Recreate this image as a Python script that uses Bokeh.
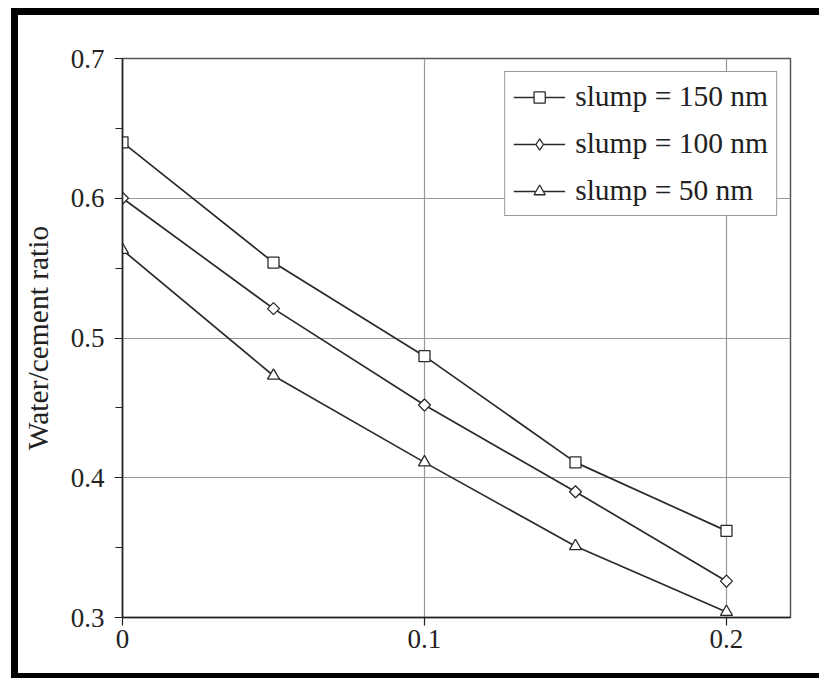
import math
from bokeh.plotting import figure
from bokeh.models import Range1d, FixedTicker, Legend, LegendItem
from bokeh.embed import file_html
from bokeh.resources import INLINE

# ---- data ----
superplasticizer = [0.0, 0.05, 0.10, 0.15, 0.20]
wc_slump150 = [0.640, 0.554, 0.487, 0.411, 0.362]
wc_slump100 = [0.600, 0.521, 0.452, 0.390, 0.326]
wc_slump50 = [0.563, 0.473, 0.411, 0.351, 0.304]
series_labels = ["slump = 150 nm", "slump = 100 nm", "slump = 50 nm"]
x_ticks = [0.0, 0.1, 0.2]
x_tick_labels = ["0", "0.1", "0.2"]
y_ticks = [0.3, 0.4, 0.5, 0.6, 0.7]
y_minor = [0.35, 0.45, 0.55, 0.65]
y_tick_labels = ["0.3", "0.4", "0.5", "0.6", "0.7"]

FONT = "Liberation Serif"
INK = "#2a2a2a"

p = figure(width=819, height=678, output_backend="svg", toolbar_location=None,
           x_range=Range1d(0, 0.2212), y_range=Range1d(0.3, 0.7),
           min_border_left=122, min_border_top=58, min_border_right=29, min_border_bottom=61)

p.background_fill_color = "white"
p.border_fill_alpha = 0
p.outline_line_color = "#555555"
p.outline_line_width = 1.5

# black picture frame drawn with CSS shadows on the host element
p.styles = {
    "background-color": "white",
    "box-shadow": ("inset 0 8px 0 0 white, inset 11px 0 0 0 white, "
                   "inset 18px 15px 0 0 black, inset 0 -5px 0 0 black"),
}

# axes
p.xaxis.ticker = FixedTicker(ticks=x_ticks, minor_ticks=[])
p.yaxis.ticker = FixedTicker(ticks=y_ticks, minor_ticks=y_minor)
p.xaxis.major_label_overrides = dict(zip(x_ticks, x_tick_labels))
p.yaxis.major_label_overrides = dict(zip(y_ticks, y_tick_labels))
for ax in (p.xaxis, p.yaxis):
    ax.axis_line_color = "#222222"
    ax.axis_line_width = 1.5
    ax.major_tick_line_color = "#222222"
    ax.major_tick_line_width = 1.2
    ax.minor_tick_line_color = "#222222"
    ax.minor_tick_line_width = 1.2
    ax.major_tick_in = 0
    ax.major_tick_out = 8
    ax.minor_tick_in = 0
    ax.minor_tick_out = 7
    ax.major_label_text_font = FONT
    ax.major_label_text_font_size = "27px"
    ax.major_label_text_color = "#222222"
p.xaxis.major_label_standoff = 4
p.yaxis.major_label_standoff = 10
p.yaxis.axis_label = "Water/cement ratio"
p.yaxis.axis_label_text_font = FONT
p.yaxis.axis_label_text_font_size = "29.5px"
p.yaxis.axis_label_text_font_style = "normal"
p.yaxis.axis_label_text_color = "#222222"
p.yaxis.axis_label_standoff = 14

# grid
p.xgrid.ticker = FixedTicker(ticks=x_ticks)
p.ygrid.ticker = FixedTicker(ticks=y_ticks)
p.grid.grid_line_color = "#999999"
p.grid.grid_line_width = 1.2

items = []

# slump = 150
l1 = p.line(superplasticizer, wc_slump150, line_color=INK, line_width=1.7)
s1 = p.scatter(superplasticizer, wc_slump150, marker="square", size=11,
               line_color=INK, line_width=1.3, fill_color="white")
items.append(LegendItem(label=series_labels[0], renderers=[l1, s1]))

# slump = 100 (legend swatch diamond sits underneath the rotated-square markers)
l2 = p.line(superplasticizer, wc_slump100, line_color=INK, line_width=1.7)
s2_legend = p.scatter(superplasticizer, wc_slump100, marker="diamond", size=11,
                      line_color=INK, line_width=1.3, fill_color="white")
s2 = p.scatter(superplasticizer, wc_slump100, marker="square", size=8.5, angle=math.pi / 4,
               line_color=INK, line_width=1.3, fill_color="white")
items.append(LegendItem(label=series_labels[1], renderers=[l2, s2_legend]))

# slump = 50
l3 = p.line(superplasticizer, wc_slump50, line_color=INK, line_width=1.7)
s3 = p.scatter(superplasticizer, wc_slump50, marker="triangle", size=12,
               line_color=INK, line_width=1.3, fill_color="white")
items.append(LegendItem(label=series_labels[2], renderers=[l3, s3]))

legend = Legend(items=items, location="top_right")
legend.margin = 13
legend.padding = 8
legend.spacing = 14
legend.label_text_font = FONT
legend.label_text_font_size = "29.5px"
legend.label_text_color = "#222222"
legend.glyph_width = 52
legend.glyph_height = 28
legend.label_height = 28
legend.label_standoff = 10
legend.border_line_color = "#333333"
legend.border_line_width = 1.5
legend.background_fill_color = "white"
legend.background_fill_alpha = 1
p.add_layout(legend, "center")

open("out.html", "w").write(file_html(p, INLINE))
